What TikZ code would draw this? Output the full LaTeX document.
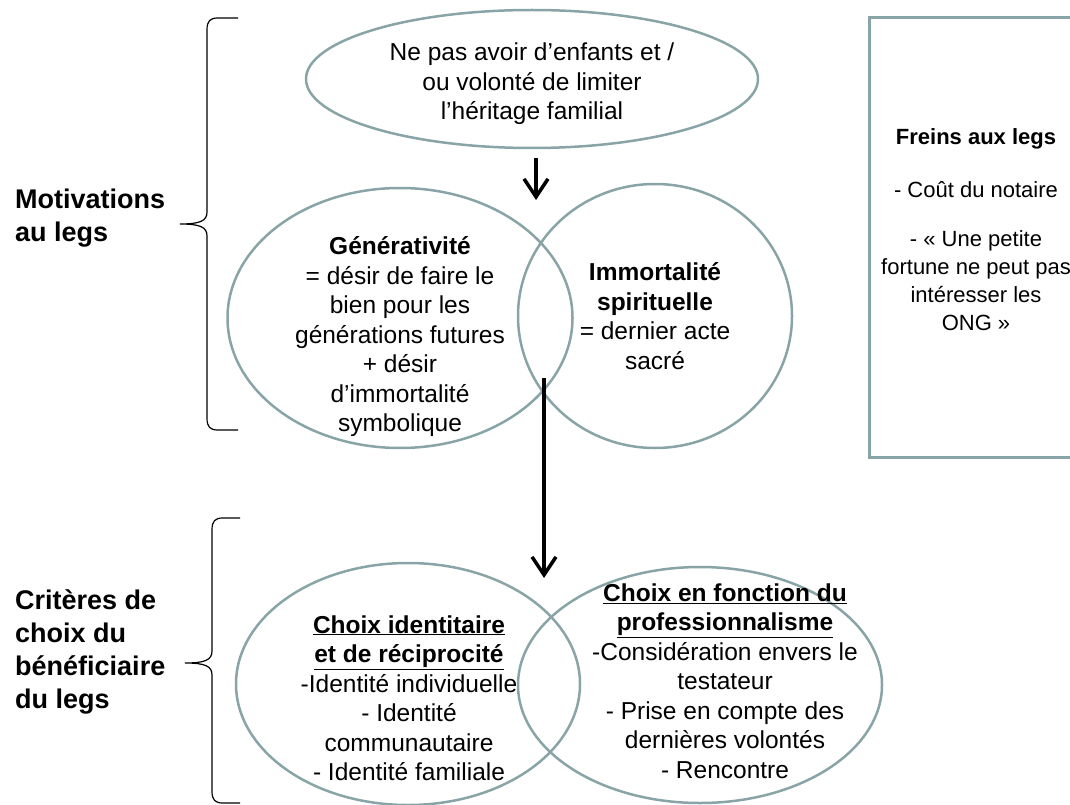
\documentclass[tikz,border=0pt]{standalone}
\usepackage{fontspec}
\setmainfont{Liberation Sans}
\usepackage{tikz}
\usetikzlibrary{arrows.meta,shapes.geometric}
\definecolor{vennline}{RGB}{137,164,166}

\begin{document}
\begin{tikzpicture}[x=1pt,y=-1pt]
\tikzstyle{venn}=[ellipse,draw=vennline,line width=2.5pt,inner sep=0pt]
\tikzstyle{txt}=[align=center,inner sep=0pt,font=\fontsize{24.5}{29.5}\selectfont]
\tikzstyle{side}=[align=left,inner sep=0pt,anchor=north west,font=\fontsize{27}{33}\selectfont\bfseries]
\tikzstyle{flow}=[line width=3.5pt,-{Straight Barb[length=18pt,width=24pt]}]
\tikzstyle{brace}=[line width=1.2pt]
\useasboundingbox (0,0) rectangle (1070,805);
% ellipses
\node[venn,minimum width=452pt,minimum height=138pt] (source) at (532,79) {};
\node[venn,minimum width=345pt,minimum height=260pt] (gen) at (400,318) {};
\node[venn,minimum width=274pt,minimum height=264pt] (imm) at (655,316) {};
\node[venn,minimum width=344pt,minimum height=242pt] (ident) at (408,684) {};
\node[venn,minimum width=364pt,minimum height=236pt] (prof) at (700,685) {};
\node[draw=vennline,line width=3pt,minimum width=214pt,minimum height=439pt,inner sep=0pt] (freins) at (976,237.5) {};
% texts
\node[txt] (sourcetxt) at (532,84) {Ne pas avoir d’enfants et /\\ou volonté de limiter\\l’héritage familial};
\node[txt] (gentxt) at (400,337) {\textbf{Générativité}\\= désir de faire le\\bien pour les\\générations futures\\+ désir\\d’immortalité\\symbolique};
\node[txt] (immtxt) at (655,316) {\textbf{Immortalité}\\\textbf{spirituelle}\\= dernier acte\\sacré};
\node[txt] (identtxt) at (409,698) {\underline{\textbf{Choix identitaire}}\\\underline{\textbf{et de réciprocité}}\\-Identité individuelle\\- Identité\\communautaire\\- Identité familiale};
\node[txt] (proftxt) at (725,681) {\underline{\textbf{Choix en fonction du}}\\\underline{\textbf{professionnalisme}}\\-Considération envers le\\testateur\\- Prise en compte des\\dernières volontés\\- Rencontre};
\node[txt,font=\fontsize{22}{28}\selectfont] (freinstxt) at (976,230) {\textbf{Freins aux legs}\\[25pt]- Coût du notaire\\[21pt]- « Une petite\\fortune ne peut pas\\intéresser les\\ONG »};
\node[side] (motiv) at (15,189) {Motivations\\au legs};
\node[side] (crit) at (15,589) {Critères de\\choix du\\bénéficiaire\\du legs};
% braces
\draw[brace] (238,18) -- (218,18) .. controls (210,18) and (207,21) .. (207,30) -- (207,212)
  .. controls (207,221) and (200,224) .. (180,224) .. controls (200,224) and (207,227) .. (207,236)
  -- (207,418) .. controls (207,427) and (210,430) .. (218,430) -- (238,430);
\draw[brace] (240,518) -- (223,518) .. controls (215,518) and (212,521) .. (212,530) -- (212,651)
  .. controls (212,660) and (205,663) .. (185,663) .. controls (205,663) and (212,666) .. (212,675)
  -- (212,791) .. controls (212,800) and (215,803) .. (223,803) -- (240,803);
% arrows
\coordinate (a1top) at (536,158);
\coordinate (a1tip) at (536,200);
\coordinate (a2top) at (544,378);
\coordinate (a2tip) at (544,578);
\draw[flow] (a1top) -- (a1tip);
\draw[flow] (a2top) -- (a2tip);
\end{tikzpicture}
\end{document}
